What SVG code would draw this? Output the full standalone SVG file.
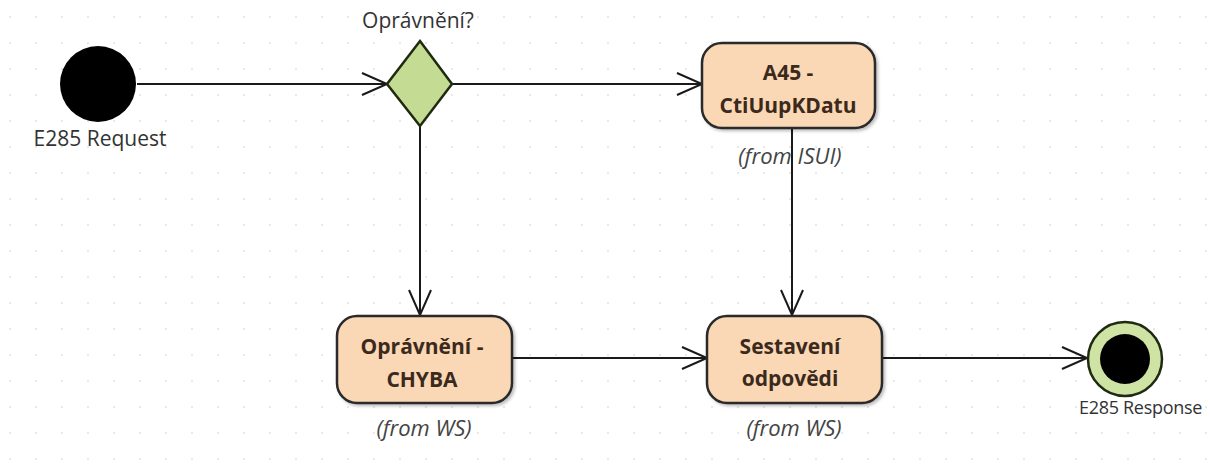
<svg xmlns="http://www.w3.org/2000/svg" width="1210" height="465" viewBox="0 0 1210 465">
<defs>
<pattern id="grid" x="9" y="16" width="26" height="26" patternUnits="userSpaceOnUse">
<circle cx="1" cy="1" r="1" fill="#e2e2e2"/>
</pattern>
<marker id="arr" markerWidth="30" markerHeight="26" refX="27" refY="13" orient="auto" markerUnits="userSpaceOnUse">
<path d="M2,2 L27,13 L2,24" fill="none" stroke="#1a1a1a" stroke-width="2"/>
</marker>
<filter id="sh" x="-10%" y="-10%" width="130%" height="130%">
<feDropShadow dx="2" dy="2" stdDeviation="1.5" flood-color="#000" flood-opacity="0.25"/>
</filter>
</defs>
<style>
text{font-family:"Open Sans","Noto Sans","Liberation Sans",sans-serif;fill:#333;}
.lbl{font-size:21px;}
.nm{font-size:21px;font-weight:bold;fill:#3b2a1c;}
.from{font-size:22px;font-style:italic;fill:#444;}
.act{fill:#fad7b5;stroke:#2a2a2a;stroke-width:2.5;filter:url(#sh);}
.edge{fill:none;stroke:#1a1a1a;stroke-width:2;marker-end:url(#arr);}
</style>
<rect width="1210" height="465" fill="#fff"/>
<rect width="1210" height="465" fill="url(#grid)"/>
<g id="connectors">
<path class="edge" d="M137,84 L387,84"/>
<path class="edge" d="M452,84 L702,84"/>
<path class="edge" d="M420,126 L420,315"/>
<path class="edge" d="M792,128 L792,315"/>
<path class="edge" d="M512,358 L707,358"/>
<path class="edge" d="M882,358 L1087,358"/>
</g>
<g id="start">
<circle cx="98" cy="84" r="38" fill="#000"/>
<text class="lbl" x="100" y="146" text-anchor="middle">E285 Request</text>
</g>
<g id="decision">
<polygon points="420,41 452,84 420,126 387,84" fill="#c3db92" stroke="#1f2a10" stroke-width="2.5"/>
<text class="lbl" x="418" y="28" text-anchor="middle">Oprávnění?</text>
</g>
<g id="a45">
<rect class="act" x="702" y="43" width="173" height="85" rx="20"/>
<text class="nm" x="788" y="80" text-anchor="middle">A45 -</text>
<text class="nm" x="788" y="113" text-anchor="middle">CtiUupKDatu</text>
<text class="from" x="790" y="164" text-anchor="middle">(from ISUI)</text>
</g>
<g id="chyba">
<rect class="act" x="337" y="316" width="175" height="87" rx="20"/>
<text class="nm" x="422" y="354" text-anchor="middle">Oprávnění -</text>
<text class="nm" x="422" y="387" text-anchor="middle">CHYBA</text>
<text class="from" x="424" y="436" text-anchor="middle">(from WS)</text>
</g>
<g id="sestaveni">
<rect class="act" x="707" y="316" width="175" height="87" rx="20"/>
<text class="nm" x="790" y="354" text-anchor="middle">Sestavení</text>
<text class="nm" x="790" y="386" text-anchor="middle">odpovědi</text>
<text class="from" x="794" y="436" text-anchor="middle">(from WS)</text>
</g>
<g id="end">
<circle cx="1125" cy="359" r="37" fill="#cfe3a4" stroke="#1f2a10" stroke-width="2.5"/>
<circle cx="1125" cy="359" r="25" fill="#000"/>
<text x="1202" y="414" text-anchor="end" style="font-size:18px;letter-spacing:-0.3px">E285 Response</text>
</g>
</svg>
